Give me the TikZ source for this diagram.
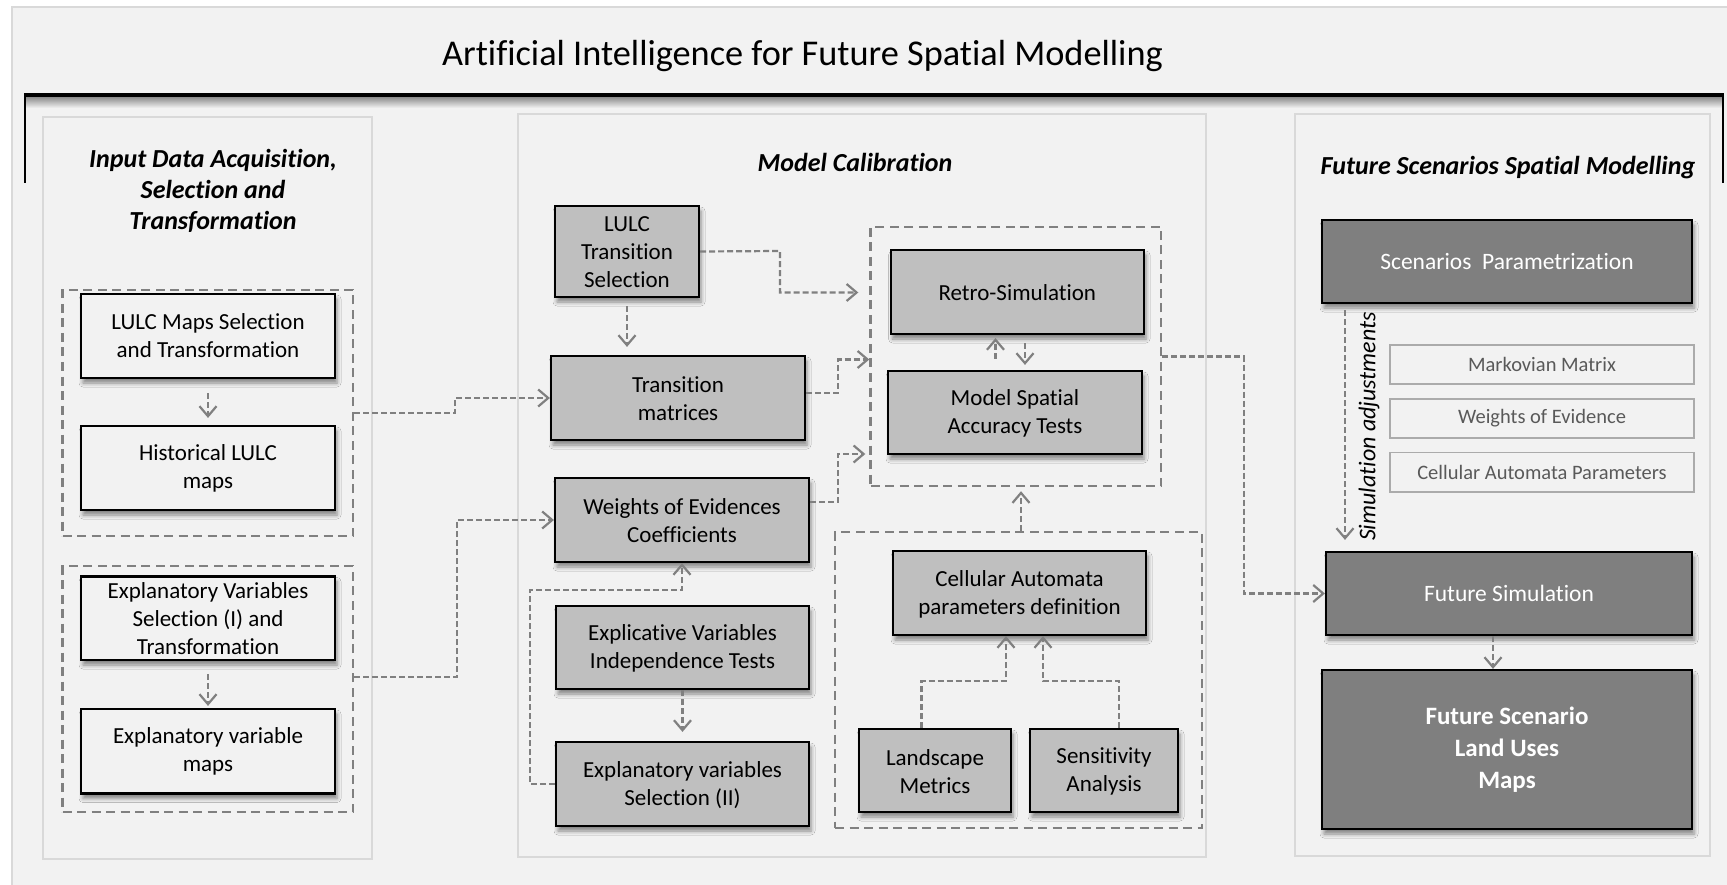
\documentclass[tikz,border=0pt]{standalone}
\usepackage{fontspec}
\setmainfont{Carlito}[Ligatures=NoCommon]
\usetikzlibrary{arrows.meta,shadows.blur,fit,calc}

\definecolor{bg}{HTML}{F2F2F2}
\definecolor{framecol}{HTML}{D9D9D9}
\definecolor{midgray}{HTML}{BFBFBF}
\definecolor{darkgray}{HTML}{7F7F7F}
\definecolor{linkgray}{HTML}{808080}
\definecolor{softtext}{HTML}{595959}
\definecolor{softline}{HTML}{ABABAB}

\tikzset{
  boxfont/.style={font=\fontsize{23}{28}\selectfont},
  basebox/.style={draw=black, line width=2.2pt, inner sep=0pt, align=center, boxfont,
    blur shadow={shadow xshift=2pt, shadow yshift=-5pt, shadow blur radius=4pt, shadow opacity=45}},
  lightbox/.style={basebox, fill=bg},
  greybox/.style={basebox, fill=midgray},
  darkbox/.style={basebox, fill=darkgray, text=white},
  paramtag/.style={draw=softline, line width=1.5pt, inner sep=0pt, text=softtext,
    font=\fontsize{20.5}{24}\selectfont},
  panel/.style={draw=framecol, line width=2pt, inner sep=0pt},
  groupbox/.style={draw=linkgray, line width=2.4pt, dash pattern=on 9pt off 5.5pt, inner sep=0pt},
  coltitle/.style={font=\fontsize{26}{31}\selectfont\bfseries\itshape, align=center},
  link/.style={draw=linkgray, line width=2.2pt, dash pattern=on 6pt off 3pt,
    -{Straight Barb[length=10pt, width=17pt, line width=2.2pt]}},
}

\begin{document}
\begin{tikzpicture}[x=1pt, y=-1pt]
\useasboundingbox (0,0) rectangle (1727,885);
\fill[white] (0,0) rectangle (1727,885);

% sheet
\fill[bg] (12,7) rectangle (1727,885);
\draw[framecol, line width=1.5pt] (1727,7) -- (12,7) -- (12,885);

% heading and rule
\node[anchor=base, font=\fontsize{36.3}{40}\selectfont] (title) at (802.5,66)
  {Artificial Intelligence for Future Spatial Modelling};
\shade[top color=black!45, bottom color=bg] (25,97) rectangle (1723,108);
\draw[line width=2pt] (25,183) -- (25,95);
\draw[line width=2pt] (1723,183) -- (1723,95);
\draw[line width=4pt] (24,95) -- (1724,95);

% column panels
\node[panel, fit={(43,117) (372,859)}] (lp) {};
\node[panel, fit={(518,114) (1206,857)}] (mp) {};
\node[panel, fit={(1295,114) (1710,856)}] (rp) {};

\node[coltitle, anchor=center] (lt) at (213,191)
  {Input Data Acquisition,\\ Selection and\\ Transformation};
\node[coltitle, anchor=base] (mt) at (855,172) {Model Calibration};
\node[coltitle, anchor=base] (rt) at (1508,175) {Future Scenarios Spatial Modelling};

% ---------- input data column ----------
\node[groupbox, fit={(62.5,290) (353,536)}] (g1) {};
\node[groupbox, fit={(62.5,566) (353,812)}] (g2) {};
\node[lightbox, fit={(81,294) (335,378)}] (lms) {};
\node at (lms.center) [boxfont, align=center] {LULC Maps Selection\\and Transformation};
\node[lightbox, fit={(81,426) (335,510)}] (hist) {};
\node at (hist.center) [boxfont, align=center] {Historical LULC\\maps};
\node[lightbox, fit={(81,576.5) (335,660)}] (evs) {};
\node at (evs.center) [boxfont, align=center] {Explanatory Variables\\Selection (I) and\\Transformation};
\node[lightbox, fit={(81,709) (335,793.5)}] (evm) {};
\node at (evm.center) [boxfont, align=center] {Explanatory variable\\maps};

\draw[link, shorten <=14pt, shorten >=7pt] (lms.south) -- (hist.north);
\draw[link, shorten <=13pt, shorten >=2pt] (evs.south) -- (evm.north);

% ---------- calibration column ----------
\node[groupbox, fit={(870.5,227) (1161,486)}] (rg) {};
\node[groupbox, fit={(835,532) (1202,828)}] (cag) {};

\node[greybox, fit={(555,206) (699,297)}] (lts) {};
\node at ([yshift=-1pt]lts.center) [boxfont, align=center] {LULC\\Transition\\Selection};
\node[greybox, fit={(551,356) (805,440)}] (tm) {};
\node at ([yshift=-1pt]tm.center) [boxfont, align=center] {Transition\\matrices};
\node[greybox, fit={(555,478) (809,562)}] (woe) {};
\node at ([yshift=-1pt]woe.center) [boxfont, align=center] {Weights of Evidences\\Coefficients};
\node[greybox, fit={(556,606) (809,689)}] (evt) {};
\node at ([yshift=-1pt]evt.center) [boxfont, align=center] {Explicative Variables\\Independence Tests};
\node[greybox, fit={(556,742) (809,826)}] (ev2) {};
\node at ([yshift=-1pt]ev2.center) [boxfont, align=center] {Explanatory variables\\Selection (II)};

\node[greybox, fit={(890.6,250) (1144,334)}] (rs) {};
\node at ([yshift=-1pt]rs.center) [boxfont] {Retro-Simulation};
\node[greybox, fit={(888,371) (1142,454)}] (msat) {};
\node at ([yshift=-1pt]msat.center) [boxfont, align=center] {Model Spatial\\Accuracy Tests};

\node[greybox, fit={(893,551) (1146,635)}] (cad) {};
\node at ([yshift=-1pt]cad.center) [boxfont, align=center] {Cellular Automata\\parameters definition};
\node[greybox, fit={(859,729) (1011,812)}] (lm) {};
\node at ([yshift=-1pt]lm.center) [boxfont, align=center] {Landscape\\Metrics};
\node[greybox, fit={(1030,729) (1178,812)}] (sa) {};
\node at ([yshift=-1pt]sa.center) [boxfont, align=center] {Sensitivity\\Analysis};

% vertical guide positions for the short links
\coordinate (xup) at (995.5,0);
\coordinate (xdown) at (1025,0);
\coordinate (xca) at (1021,0);
\coordinate (xadj) at (1345,0);

% links into the calibration column
\draw[link] (g1.east) -- ++(101,0) |- (tm.west);
\draw[link] ([yshift=12pt]g2.east) -- ++(103,0) |- (woe.west);

\draw[link] (lts.east) -- (780,251) |- ([xshift=-11pt, yshift=64pt]rg.west);
\draw[link, shorten <=8pt, shorten >=8pt] (lts.south) -- (lts.south |- tm.north);
\draw[link] ([yshift=5pt]tm.east) -- (838,393) |- ([yshift=-3pt]rg.west);
\draw[link] ([yshift=18pt]woe.east) -- (838,502) |- ([xshift=-4pt, yshift=-97.5pt]rg.west);

\draw[link, shorten <=11pt, shorten >=3pt] (msat.north -| xup) -- (rs.south -| xup);
\draw[link, shorten <=8pt, shorten >=5pt] (rs.south -| xdown) -- (msat.north -| xdown);

\draw[link, shorten >=4pt] (cag.north -| xca) -- (rg.south -| xca);
\draw[link] ([xshift=-13.5pt]lm.north) |- (1006,681) -- ([xshift=-13.5pt]cad.south);
\draw[link] ([xshift=15pt]sa.north) |- (1043,681) -- ([xshift=23.5pt]cad.south);

\draw[link] (ev2.west) -- ++(-25,0) |- ([yshift=-27pt]woe.south) -- (woe.south);
\draw[link, shorten >=9pt] (evt.south) -- (ev2.north);

% ---------- scenario column ----------
\node[darkbox, fit={(1322,220) (1692,303)}] (sp) {};
\node at (sp.center) [text=white, font=\fontsize{23.5}{27}\selectfont] {Scenarios\ \ Parametrization};
\node[paramtag, fit={(1390,345) (1694,384)}] (mm) {};
\node at (mm.center) [text=softtext, font=\fontsize{20.5}{24}\selectfont] {Markovian Matrix};
\node[paramtag, fit={(1390,399) (1694,438)}] (we) {};
\node at (we.center) [text=softtext, font=\fontsize{20.5}{24}\selectfont] {Weights of Evidence};
\node[paramtag, fit={(1390,452.5) (1694,492)}] (cpar) {};
\node at (cpar.center) [text=softtext, font=\fontsize{20.5}{24}\selectfont] {Cellular Automata Parameters};
\node[darkbox, fit={(1326,552) (1692,635)}] (fs) {};
\node at (fs.center) [text=white, font=\fontsize{23.5}{27}\selectfont] {Future Simulation};
\node[darkbox, fit={(1322,670) (1692,829)}] (fsm) {};
\node at (fsm.center) [text=white, align=center, font=\fontsize{25}{32}\selectfont\bfseries]
  {Future Scenario\\Land Uses\\Maps};

\draw[link, shorten <=6pt, shorten >=11pt] (sp.south -| xadj) -- (fs.north -| xadj);
\node[rotate=90, font=\fontsize{24}{28}\selectfont\itshape] (adj) at (1369,426.5) {Simulation adjustments};

\draw[link] (rg.east) -- (1244,356.5) |- (fs.west);
\draw[link] ([xshift=-16pt]fs.south) -- ([xshift=-16pt]fs.south |- fsm.north);

\end{tikzpicture}
\end{document}
